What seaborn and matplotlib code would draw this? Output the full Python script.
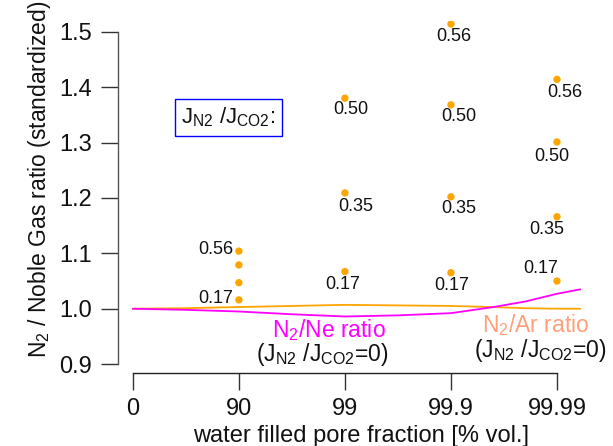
import matplotlib
matplotlib.use("Agg")
import matplotlib.pyplot as plt
import seaborn as sns
import pandas as pd

# x positions are -log10(1 - water fraction): 0, 90, 99, 99.9, 99.99 %
tick_pos = [0, 1, 2, 3, 4]
tick_labels = ["0", "90", "99", "99.9", "99.99"]

# standardized N2/noble gas ratios for J_N2/J_CO2 > 0
pt_x = [1, 1, 1, 1, 2, 2, 2, 3, 3, 3, 3, 4, 4, 4, 4]
pt_y = [1.104, 1.079, 1.047, 1.016,
        1.380, 1.209, 1.067,
        1.514, 1.368, 1.202, 1.065,
        1.414, 1.301, 1.166, 1.050]
pt_lab = ["0.56", "", "", "0.17",
          "0.50", "0.35", "0.17",
          "0.56", "0.50", "0.35", "0.17",
          "0.56", "0.50", "0.35", "0.17"]
# label offsets in pixels (dx right, dy down)
lab_dx = [-6, 0, 0, -6, 6, 11, -2, 3, 8, 8, 1, 8, -5, -10, -16]
lab_dy = [-2, 0, 0, -1, 11, 14, 13, 13, 12, 12, 13, 13, 15, 13, -13]

# lines for J_N2/J_CO2 = 0
line_x = [0, 0.5, 1, 1.5, 2, 2.5, 3, 3.4, 3.7, 4, 4.22]
ne_y = [1.0, 0.998, 0.995, 0.990, 0.986, 0.988, 0.992, 1.003, 1.013, 1.027, 1.035]
ar_y = [1.0, 1.001, 1.003, 1.005, 1.007, 1.006, 1.005, 1.003, 1.001, 1.0, 1.0]

sns.set_style("ticks")
plt.rcParams["font.family"] = ["Liberation Sans", "DejaVu Sans"]
plt.rcParams["mathtext.fontset"] = "custom"
plt.rcParams["mathtext.rm"] = "Liberation Sans"

fig = plt.figure(figsize=(6.13, 4.46), dpi=100)
ax = fig.add_axes([0.1925, 0.1637, 0.768, 0.790])

lines = pd.DataFrame({"x": line_x, "ne": ne_y, "ar": ar_y})
sns.lineplot(data=lines, x="x", y="ar", color="#FFA500", lw=1.3, ax=ax)
sns.lineplot(data=lines, x="x", y="ne", color="#FF00FF", lw=1.3, ax=ax)

pts = pd.DataFrame({"x": pt_x, "y": pt_y})
sns.scatterplot(data=pts, x="x", y="y", color="#FFA500", s=28, edgecolor="none", ax=ax, zorder=3)

for x, y, t, dx, dy in zip(pt_x, pt_y, pt_lab, lab_dx, lab_dy):
    if not t:
        continue
    ha = "right" if x == 1 else "center"
    ax.annotate(t, (x, y), xytext=(dx * 0.72, -dy * 0.72), textcoords="offset points",
                ha=ha, va="center", fontsize=13, color="#111111")

ax.set_xlim(-0.14, 4.3)
ax.set_ylim(0.884, 1.52)
ax.set_xticks(tick_pos)
ax.set_xticklabels(tick_labels)
ax.set_yticks([0.9, 1.0, 1.1, 1.2, 1.3, 1.4, 1.5])
ax.set_xlabel("")
ax.set_ylabel("")
sns.despine(ax=ax)
ax.spines["left"].set_bounds(0.9, 1.5)
ax.spines["bottom"].set_bounds(0, 4)
ax.spines["left"].set_color("#555555")
ax.spines["bottom"].set_color("#222222")
for s in ["left", "bottom"]:
    ax.spines[s].set_linewidth(1.0)
ax.tick_params(axis="both", length=12, width=1.0, color="#333333", labelsize=17, labelcolor="#111111")
ax.tick_params(axis="y", pad=7)
ax.tick_params(axis="x", pad=6)

fig.text(361 / 613, 1 - 436 / 446, "water filled pore fraction [% vol.]",
         ha="center", va="center", fontsize=17, color="#111111")
fig.text(40 / 613, 1 - 179 / 446, r"N$_2$ / Noble Gas ratio (standardized)",
         ha="center", va="center", rotation=90, fontsize=16.5, color="#111111")

ax.text(1.85, 1.0 - 21 / 555, r"N$_2$/Ne ratio", ha="center", va="center",
        fontsize=16.5, color="#FF00FF")
ax.text(1.79, 1.0 - 46 / 555, r"(J$_{\rm N2}$ /J$_{\rm CO2}$=0)", ha="center", va="center",
        fontsize=16.5, color="#111111")
ax.text(3.8, 1.0 - 16 / 555, r"N$_2$/Ar ratio", ha="center", va="center",
        fontsize=16.5, color="#FFA07A")
ax.text(3.84, 1.0 - 42 / 555, r"(J$_{\rm N2}$ /J$_{\rm CO2}$=0)", ha="center", va="center",
        fontsize=16.5, color="#111111")
ax.text(0.9, 1.0 + 192 / 555, r"J$_{\rm N2}$ /J$_{\rm CO2}$:", ha="center", va="center",
        fontsize=16, color="#111111",
        bbox=dict(boxstyle="square,pad=0.3", fc="white", ec="#0000FF", lw=1.0))

fig.savefig("out.png", dpi=100)
